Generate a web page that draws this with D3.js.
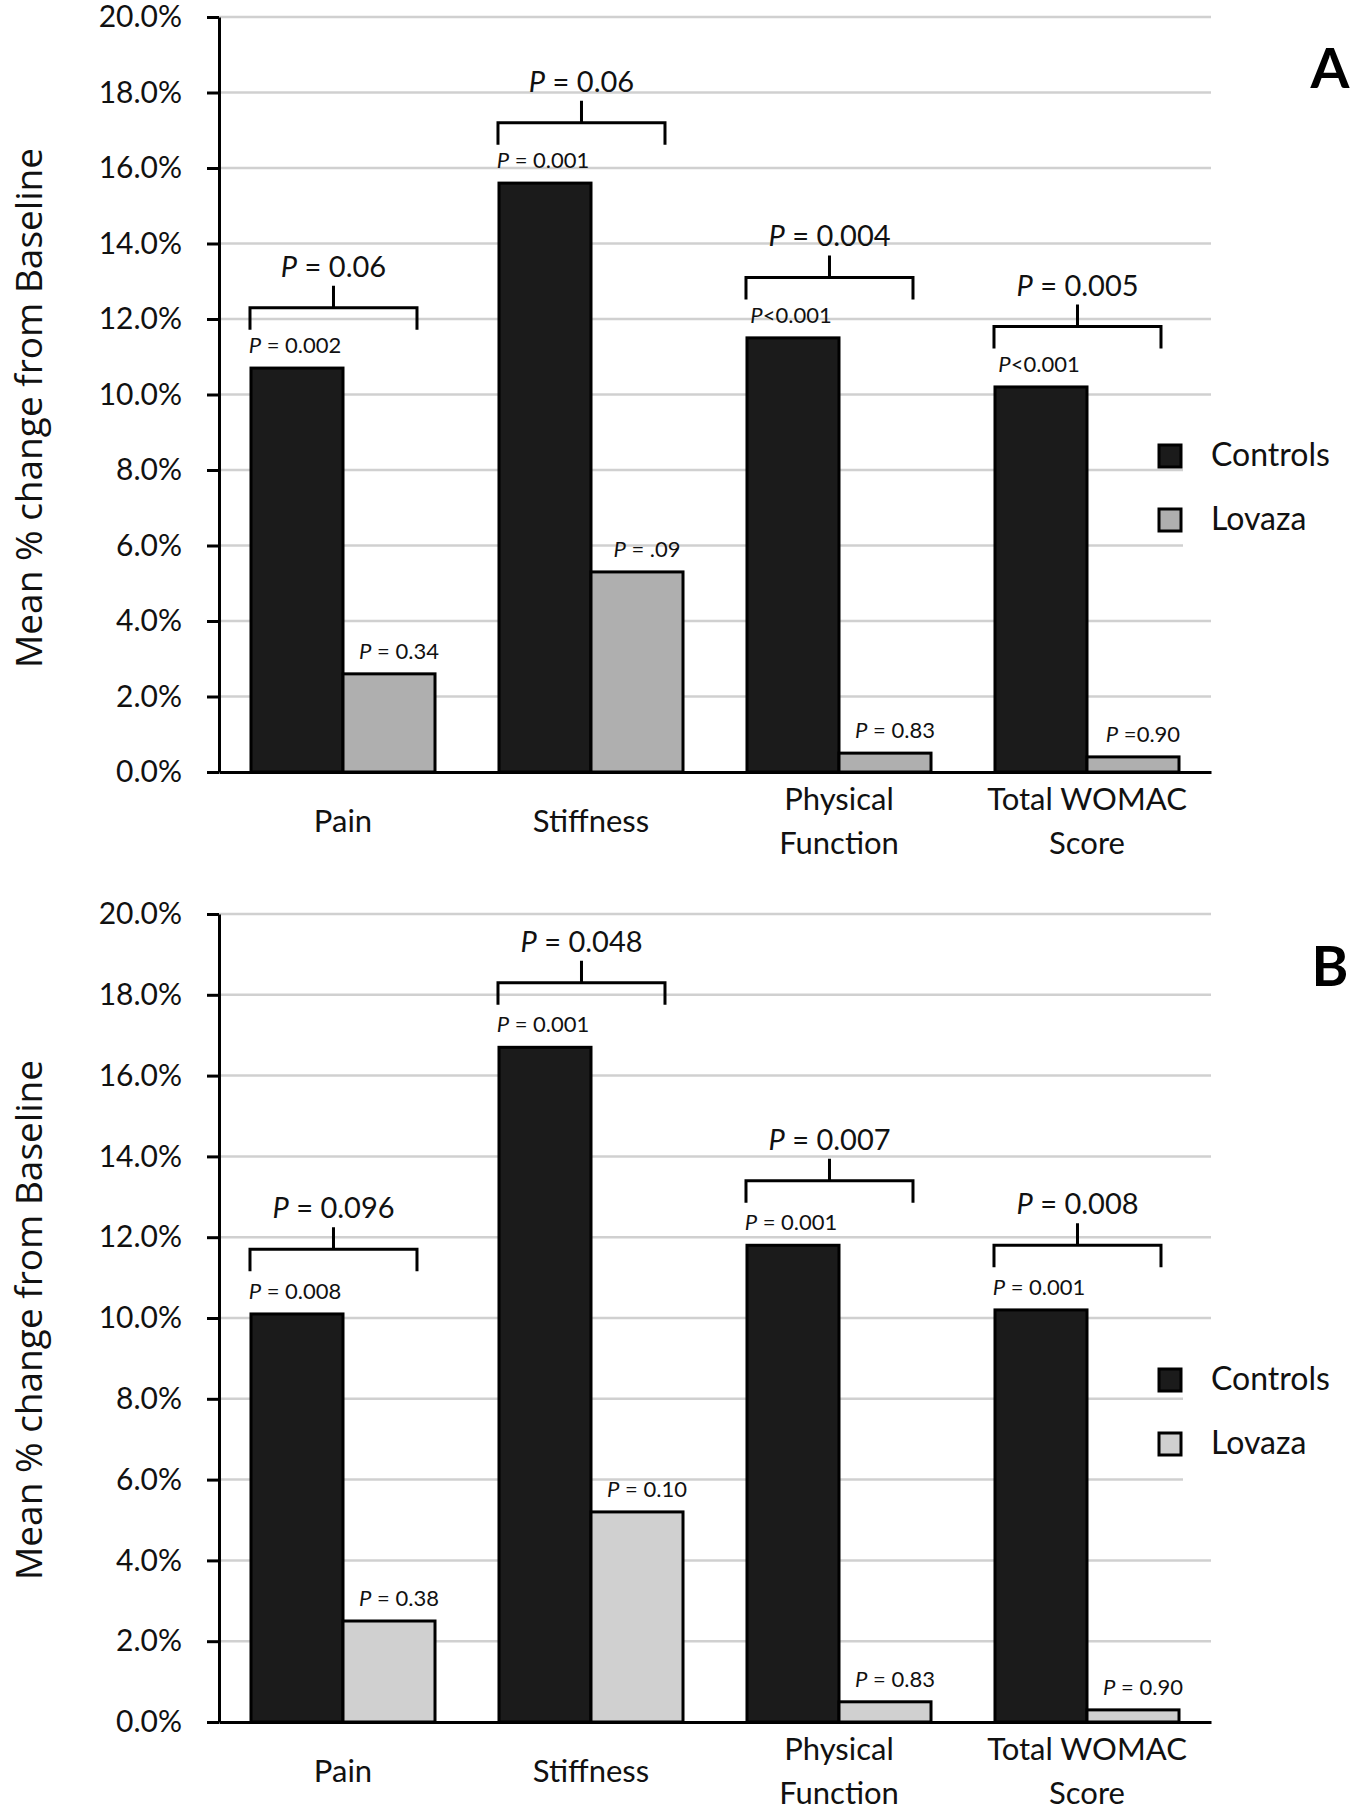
<!DOCTYPE html>
<html><head><meta charset="utf-8">
<script src="https://cdn.jsdelivr.net/npm/d3@7"></script>
<style>
body{margin:0;background:#fff;}
text{white-space:pre;}
</style>
</head><body>
<svg id="chart" width="1356" height="1810"></svg>
<script>
// ---------- data ----------
const categories = ["Pain", "Stiffness", "Physical Function", "Total WOMAC Score"];
const categoryLines = [["Pain"], ["Stiffness"], ["Physical", "Function"], ["Total WOMAC", "Score"]];
const seriesNames = ["Controls", "Lovaza"];
const yTicks = [0, 2, 4, 6, 8, 10, 12, 14, 16, 18, 20];

const controlsA = [10.7, 15.6, 11.5, 10.2];
const lovazaA   = [2.6, 5.3, 0.5, 0.4];
const controlsPA = [" = 0.002", " = 0.001", "<0.001", "<0.001"];
const lovazaPA   = [" = 0.34", " = .09", " = 0.83", " =0.90"];
const compareA   = [" = 0.06", " = 0.06", " = 0.004", " = 0.005"];

const controlsB = [10.1, 16.7, 11.8, 10.2];
const lovazaB   = [2.5, 5.2, 0.5, 0.3];
const controlsPB = [" = 0.008", " = 0.001", " = 0.001", " = 0.001"];
const lovazaPB   = [" = 0.38", " = 0.10", " = 0.83", " = 0.90"];
const compareB   = [" = 0.096", " = 0.048", " = 0.007", " = 0.008"];

// ---------- drawing ----------
const svg = d3.select("#chart");
const FONT = "Lato, 'Open Sans', sans-serif";
const LEFT = 219, RIGHT = 1211;

const panels = [
  {label: "A", top: 17, bottom: 772, controls: controlsA, lovaza: lovazaA,
   cP: controlsPA, lP: lovazaPA, comp: compareA, lovazaFill: "#afafaf",
   titleY: 408, legendY: 456, labelY: 88},
  {label: "B", top: 914, bottom: 1722, controls: controlsB, lovaza: lovazaB,
   cP: controlsPB, lP: lovazaPB, comp: compareB, lovazaFill: "#d0d0d0",
   titleY: 1320, legendY: 1380, labelY: 986}
];

function pText(sel, rest) {
  sel.append("tspan").attr("font-style", "italic").text("P");
  sel.append("tspan").text(rest);
}

panels.forEach(p => {
  const y = d3.scaleLinear().domain([0, 20]).range([p.bottom, p.top]);
  const x0 = d3.scaleBand().domain(categories).range([LEFT, RIGHT])
    .paddingInner(0.258).paddingOuter(0.129);
  const x1 = d3.scaleBand().domain(seriesNames).range([0, x0.bandwidth()]);
  const color = d3.scaleOrdinal().domain(seriesNames).range(["#1b1b1b", p.lovazaFill]);
  const g = svg.append("g");

  // gridlines
  g.append("g").selectAll("line").data(yTicks.filter(t => t > 0)).join("line")
    .attr("x1", LEFT).attr("x2", RIGHT)
    .attr("y1", d => y(d)).attr("y2", d => y(d))
    .attr("stroke", "#d0d0d0").attr("stroke-width", 2.5);

  // legend background (covers gridlines)
  g.append("rect").attr("x", 1183).attr("y", p.legendY - 32)
    .attr("width", 173).attr("height", 134).attr("fill", "#fff");

  // bars
  const rows = categories.map((c, i) => ({
    cat: c, i,
    vals: [{s: "Controls", v: p.controls[i], t: p.cP[i]}, {s: "Lovaza", v: p.lovaza[i], t: p.lP[i]}]
  }));
  const grp = g.append("g").selectAll("g").data(rows).join("g")
    .attr("transform", d => `translate(${x0(d.cat)},0)`);
  grp.selectAll("rect").data(d => d.vals).join("rect")
    .attr("x", d => x1(d.s)).attr("width", x1.bandwidth())
    .attr("y", d => y(d.v)).attr("height", d => y(0) - y(d.v))
    .attr("fill", d => color(d.s)).attr("stroke", "#000").attr("stroke-width", 3);

  // small p labels over bars
  grp.selectAll("text").data(d => d.vals).join("text")
    .attr("x", d => x1(d.s) + x1.bandwidth() / 2 + (d.s === "Lovaza" ? 10 : -2))
    .attr("y", d => y(d.v) - 15)
    .attr("text-anchor", "middle").attr("font-family", FONT).attr("font-size", 22)
    .attr("fill", "#111")
    .each(function(d) { pText(d3.select(this), d.t); });

  // brackets
  rows.forEach(r => {
    const bx = x0(r.cat) - 1, bw = 167, by = y(r.vals[0].v + 1.6);
    g.append("path")
      .attr("d", `M${bx},${by + 22}V${by}H${bx + bw}V${by + 22}M${bx + bw / 2},${by}V${by - 22}`)
      .attr("fill", "none").attr("stroke", "#000").attr("stroke-width", 3);
    const t = g.append("text").attr("x", bx + bw / 2).attr("y", by - 31)
      .attr("text-anchor", "middle").attr("font-family", FONT).attr("font-size", 29)
      .attr("fill", "#111");
    pText(t, p.comp[r.i]);
  });

  // y axis
  const ya = g.append("g").attr("transform", `translate(${LEFT},0)`)
    .call(d3.axisLeft(y).tickValues(yTicks).tickSize(12).tickSizeOuter(0).tickPadding(25)
      .tickFormat(d => d.toFixed(1) + "%"));
  ya.selectAll("path,line").attr("stroke", "#000").attr("stroke-width", 3);
  ya.selectAll("text").attr("font-family", FONT).attr("font-size", 30).attr("fill", "#111");

  // x axis
  const xa = g.append("g").attr("transform", `translate(0,${y(0)})`)
    .call(d3.axisBottom(x0).tickSize(0).tickSizeOuter(0).tickFormat(""));
  xa.select("path").attr("stroke", "#000").attr("stroke-width", 3);

  // category labels
  categories.forEach((c, i) => {
    const lines = categoryLines[i];
    const cx = x0(c) + x0.bandwidth() / 2;
    const t = g.append("text").attr("text-anchor", "middle")
      .attr("font-family", FONT).attr("font-size", 31).attr("fill", "#111");
    const offs = lines.length === 1 ? [60] : [38, 82];
    lines.forEach((ln, k) => {
      t.append("tspan").attr("x", cx).attr("y", y(0) + offs[k]).text(ln);
    });
  });

  // y title
  g.append("text").attr("transform", `translate(42,${p.titleY}) rotate(-90)`)
    .attr("text-anchor", "middle").attr("font-family", "'Open Sans', sans-serif")
    .attr("font-size", 37).attr("fill", "#111").text("Mean % change from Baseline");

  // panel label
  g.append("text").attr("x", 1330).attr("y", p.labelY).attr("text-anchor", "middle")
    .attr("font-family", FONT).attr("font-weight", "bold").attr("font-size", 56)
    .attr("fill", "#000").text(p.label);

  // legend
  seriesNames.forEach((s, j) => {
    const ly = p.legendY + j * 64;
    g.append("rect").attr("x", 1159).attr("y", ly - 11).attr("width", 22).attr("height", 22)
      .attr("fill", color(s)).attr("stroke", "#000").attr("stroke-width", 3);
    g.append("text").attr("x", 1211).attr("y", ly + 10)
      .attr("font-family", FONT).attr("font-size", 32).attr("fill", "#111").text(s);
  });
});
</script>
</body></html>
